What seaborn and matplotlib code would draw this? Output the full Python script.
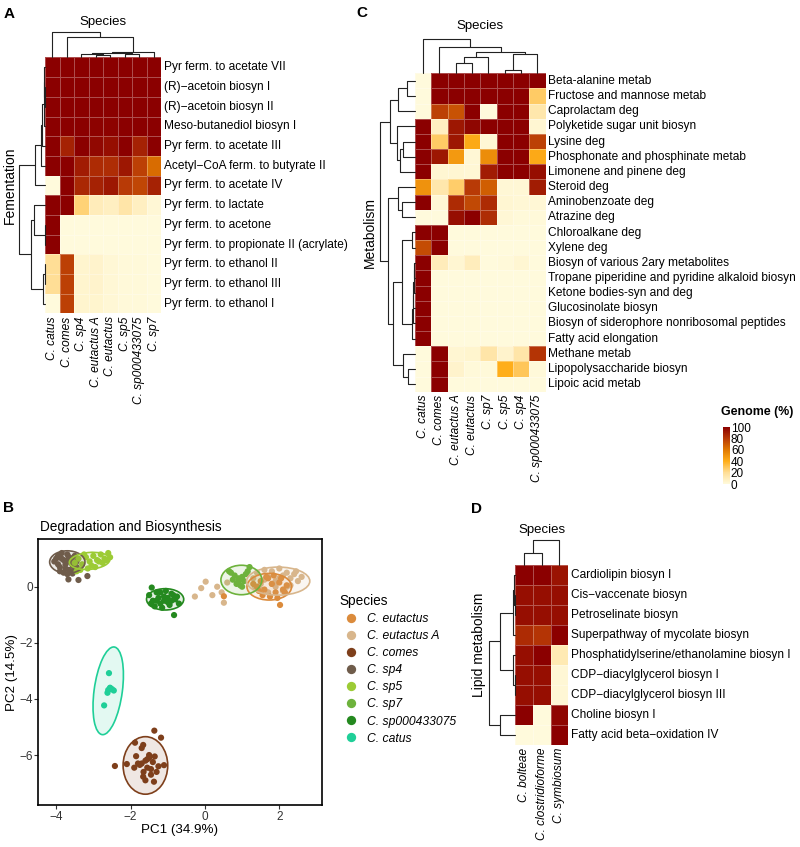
import numpy as np
import pandas as pd
import matplotlib
matplotlib.use('Agg')
import matplotlib.pyplot as plt
import seaborn as sns
from matplotlib.patches import Ellipse
from matplotlib.colors import LinearSegmentedColormap, Normalize
from matplotlib.cm import ScalarMappable

# ---------------- datos ----------------
# Panel A: fermentacion
ferm_species = ['C. catus', 'C. comes', 'C. sp4', 'C. eutactus A', 'C. eutactus',
                'C. sp5', 'C. sp000433075', 'C. sp7']
ferm_pathways = ['Pyr ferm. to acetate VII', '(R)\u2212acetoin biosyn I', '(R)\u2212acetoin biosyn II',
                 'Meso-butanediol biosyn I', 'Pyr ferm. to acetate III',
                 'Acetyl\u2212CoA ferm. to butyrate II', 'Pyr ferm. to acetate IV',
                 'Pyr ferm. to lactate', 'Pyr ferm. to acetone',
                 'Pyr ferm. to propionate II (acrylate)', 'Pyr ferm. to ethanol II',
                 'Pyr ferm. to ethanol III', 'Pyr ferm. to ethanol I']
ferm_values = [
    [100, 100, 100, 100, 100, 100, 100, 100],
    [100, 100, 100, 100, 100, 100, 100, 100],
    [100, 100, 100, 100, 100, 100, 100, 100],
    [100, 100, 100, 99, 99, 100, 100, 100],
    [100, 88, 100, 97, 95, 100, 88, 100],
    [100, 100, 90, 85, 84, 92, 78, 64],
    [0, 100, 86, 88, 92, 80, 76, 88],
    [100, 100, 25, 10, 8, 15, 8, 2],
    [100, 0, 0, 0, 0, 0, 0, 0],
    [100, 0, 0, 0, 0, 0, 0, 0],
    [20, 78, 4, 5, 2, 1, 1, 0],
    [20, 78, 4, 5, 2, 1, 1, 0],
    [0, 78, 4, 4, 2, 1, 1, 0],
]
# dendrogramas: (hijo izq, hijo der, altura)
ferm_col_tree = [(3, 4, 2.0), (2, 8, 3.0), (5, 6, 3.5), (9, 10, 4.0), (11, 7, 5.2),
                 (1, 12, 20.8), (0, 13, 25.2)]
ferm_row_tree = [(1, 2, 0.3), (0, 13, 0.6), (14, 3, 1.0), (15, 4, 3.0), (16, 5, 4.5),
                 (17, 6, 10.0), (8, 9, 0.5), (7, 19, 11.0), (10, 11, 0.5), (21, 12, 2.0),
                 (20, 22, 14.3), (18, 23, 26.0)]

# Panel C: metabolismo
met_species = ['C. catus', 'C. comes', 'C. eutactus A', 'C. eutactus', 'C. sp7',
               'C. sp5', 'C. sp4', 'C. sp000433075']
met_pathways = ['Beta-alanine metab', 'Fructose and mannose metab', 'Caprolactam deg',
                'Polyketide sugar unit biosyn', 'Lysine deg',
                'Phosphonate and phosphinate metab', 'Limonene and pinene deg',
                'Steroid deg', 'Aminobenzoate deg', 'Atrazine deg', 'Chloroalkane deg',
                'Xylene deg', 'Biosyn of various 2ary metabolites',
                'Tropane piperidine and pyridine alkaloid biosyn',
                'Ketone bodies-syn and deg', 'Glucosinolate biosyn',
                'Biosyn of siderophore nonribosomal peptides', 'Fatty acid elongation',
                'Methane metab', 'Lipopolysaccharide biosyn', 'Lipoic acid metab']
met_values = [
    [0, 100, 100, 100, 100, 100, 100, 100],
    [0, 100, 100, 100, 100, 100, 100, 28],
    [0, 78, 72, 100, 0, 100, 100, 14],
    [100, 8, 92, 98, 100, 100, 100, 3],
    [100, 28, 92, 42, 2, 100, 100, 78],
    [100, 92, 48, 2, 52, 100, 100, 42],
    [100, 3, 3, 2, 90, 100, 100, 95],
    [50, 14, 27, 80, 68, 2, 2, 90],
    [100, 2, 85, 75, 85, 3, 2, 2],
    [0, 0, 95, 100, 84, 2, 1, 1],
    [100, 100, 0, 0, 0, 0, 0, 0],
    [74, 100, 0, 0, 0, 0, 0, 0],
    [100, 10, 3, 9, 0, 1, 3, 0],
    [100, 0, 0, 0, 0, 0, 0, 0],
    [100, 0, 0, 0, 0, 0, 0, 0],
    [100, 0, 0, 0, 0, 0, 0, 0],
    [100, 0, 0, 0, 0, 0, 0, 0],
    [100, 0, 0, 0, 0, 0, 0, 0],
    [0, 100, 3, 4, 15, 5, 15, 82],
    [0, 100, 5, 1, 1, 40, 30, 1],
    [0, 100, 0, 0, 0, 0, 0, 0],
]
met_col_tree = [(5, 6, 3.0), (8, 7, 19.0), (2, 3, 10.0), (10, 4, 16.0), (11, 9, 21.0),
                (1, 12, 26.0), (0, 13, 34.0)]
met_row_tree = [(0, 1, 8.0), (21, 2, 17.0), (4, 5, 12.0), (23, 6, 15.0), (3, 24, 18.0),
                (22, 25, 25.0), (8, 9, 13.0), (7, 27, 17.0), (10, 11, 3.0),
                (12, 13, 0.5), (30, 14, 1.0), (31, 15, 1.5), (32, 16, 2.0), (33, 17, 2.5),
                (29, 34, 13.3), (19, 20, 7.0), (18, 36, 12.0), (35, 37, 21.7),
                (28, 38, 26.7), (26, 39, 35.0)]

# Panel D: lipidos
lip_species = ['C. bolteae', 'C. clostridioforme', 'C. symbiosum']
lip_pathways = ['Cardiolipin biosyn I', 'Cis\u2212vaccenate biosyn', 'Petroselinate biosyn',
                'Superpathway of mycolate biosyn',
                'Phosphatidylserine/ethanolamine biosyn I', 'CDP\u2212diacylglycerol biosyn I',
                'CDP\u2212diacylglycerol biosyn III', 'Choline biosyn I',
                'Fatty acid beta\u2212oxidation IV']
lip_values = [
    [100, 100, 93],
    [95, 95, 95],
    [95, 95, 95],
    [85, 82, 100],
    [95, 100, 12],
    [95, 95, 2],
    [95, 95, 2],
    [100, 0, 98],
    [0, 0, 100],
]
lip_col_tree = [(0, 1, 12.0), (3, 2, 25.0)]
lip_row_tree = [(1, 2, 0.5), (0, 9, 1.5), (10, 3, 2.5), (5, 6, 0.5), (4, 12, 2.0),
                (11, 13, 15.0), (7, 8, 15.0), (14, 15, 25.7)]

# Panel B: PCA
pca_order = ['C. eutactus', 'C. eutactus A', 'C. comes', 'C. sp4', 'C. sp5', 'C. sp7',
             'C. sp000433075', 'C. catus']
pca_colors = ['#DB8B3C', '#D8B68C', '#7E3F1B', '#6F5C4B', '#9CCB35', '#6DB23C',
              '#24891F', '#1FCF98']

sp4_x = [-4.05, -3.95, -3.9, -3.85, -3.8, -3.75, -3.7, -3.65, -3.6, -3.55, -3.5, -3.45,
         -3.9, -3.8, -3.7, -3.6, -3.5, -3.85, -3.75, -3.65, -3.67, -3.4, -3.16, -3.56,
         -4.0, -3.95, -3.45, -3.7]
sp4_y = [0.9, 1.1, 0.7, 1.2, 0.95, 0.8, 1.15, 0.6, 1.0, 0.75, 1.1, 0.9, 0.55, 0.5, 0.45,
         0.85, 0.6, 1.0, 0.65, 1.05, 0.26, 0.24, 0.38, 0.47, 1.0, 0.8, 0.7, 0.95]
sp5_x = [-3.5, -3.4, -3.3, -3.2, -3.1, -3.0, -2.9, -2.8, -2.7, -2.6, -2.55, -3.35, -3.15,
         -2.95, -2.75, -3.25, -3.05, -2.85, -3.45, -2.65]
sp5_y = [0.85, 1.0, 0.8, 1.05, 0.9, 1.1, 0.95, 1.15, 1.0, 1.2, 1.05, 0.6, 0.65, 0.7, 0.85,
         1.15, 0.75, 0.9, 0.55, 0.95]
sp0004_x = [-1.5, -1.4, -1.3, -1.2, -1.1, -1.0, -0.9, -0.8, -0.7, -1.35, -1.25, -1.15,
            -1.05, -0.95, -0.85, -1.45, -1.3, -1.1, -0.9, -0.75, -1.43, -0.83, -1.2, -1.0]
sp0004_y = [-0.3, -0.5, -0.2, -0.6, -0.35, -0.55, -0.25, -0.45, -0.6, -0.7, -0.4, -0.75,
            -0.15, -0.65, -0.3, -0.6, -0.5, -0.5, -0.5, -0.35, -0.03, -1.01, -0.2, -0.4]
sp7_x = [0.7, 0.8, 0.9, 1.0, 1.1, 1.15, 0.85, 0.95, 1.05, 0.75, 0.65, 1.2, 0.9, 1.0]
sp7_y = [0.5, 0.4, 0.3, 0.35, 0.45, 0.55, 0.1, 0.05, 0.2, 0.25, 0.55, 0.7, 0.2, 0.0]
eutA_x = [1.3, 1.4, 1.5, 1.6, 1.7, 1.8, 1.9, 2.0, 2.1, 2.2, 2.3, 2.4, 2.5, 1.5, 1.7, 1.9,
          2.1, 2.3, 1.6, 1.8, 2.0, 2.2, 2.45, 1.35, 2.6, -0.27, 0.02, 0.33, 0.51, 0.2,
          0.45, -0.1, 0.6]
eutA_y = [0.3, 0.5, 0.1, 0.6, 0.35, 0.55, 0.2, 0.65, 0.4, 0.5, 0.3, 0.45, 0.2, -0.1,
          -0.2, 0.0, -0.15, 0.05, 0.25, 0.1, 0.3, 0.0, 0.55, 0.0, 0.35, -0.35, 0.18, 0.0,
          -0.57, -0.3, -0.2, -0.05, 0.15]
eut_x = [1.4, 1.5, 1.6, 1.7, 1.8, 1.9, 2.0, 2.1, 2.2, 1.55, 1.75, 1.95, 2.15, 1.65, 1.85,
         2.05, 1.45, 2.02, 0.51, 1.3]
eut_y = [0.0, 0.2, -0.1, 0.3, 0.1, -0.2, 0.15, -0.1, 0.05, -0.3, -0.35, -0.4, -0.2, 0.35,
         0.4, 0.3, -0.15, -0.65, -0.34, 0.1]
comes_x = [-1.36, -1.18, -2.42, -1.88, -1.66, -1.85, -1.1, -1.37, -1.66, -2.1, -1.7,
           -1.6, -1.5, -1.55, -1.45, -1.65, -1.75, -1.4, -1.5, -1.6, -1.3, -1.8, -1.55,
           -1.45, -1.7, -1.25, -1.9, -1.35]
comes_y = [-5.13, -5.38, -6.39, -5.56, -5.64, -6.04, -6.36, -6.95, -6.77, -6.32, -6.3,
           -6.2, -6.1, -6.45, -6.5, -6.6, -6.35, -6.25, -6.0, -6.9, -6.6, -6.3, -6.15,
           -6.7, -5.75, -6.4, -6.45, -6.05]
catus_x = [-2.58, -2.55, -2.6, -2.5, -2.45, -2.62, -2.71, -2.55]
catus_y = [-3.08, -3.62, -3.68, -3.65, -3.7, -3.78, -4.23, -3.6]

# elipses de confianza: centro x, centro y, ancho, alto, angulo
ell_cx = [1.73, 1.97, -1.6, -3.7, -3.1, 0.98, -1.07, -2.6]
ell_cy = [0.0, 0.2, -6.37, 0.88, 0.92, 0.24, -0.45, -3.71]
ell_w = [1.2, 1.7, 1.2, 0.95, 1.1, 1.1, 1.0, 0.76]
ell_h = [0.95, 1.0, 2.05, 0.8, 0.6, 1.05, 0.76, 3.14]
ell_ang = [0, 0, 0, 0, 8, 0, 0, -5.7]

# ---------------- estilo ----------------
sns.set_theme(style='white')
plt.rcParams['font.family'] = ['Liberation Sans', 'DejaVu Sans']
plt.rcParams['text.color'] = 'black'
plt.rcParams['axes.labelcolor'] = 'black'

cmap = LinearSegmentedColormap.from_list('genome', [
    (0.0, '#FFFADC'), (0.2, '#FFDE96'), (0.4, '#FFAE1A'), (0.6, '#E07800'),
    (0.8, '#B83A06'), (1.0, '#8B0000')])

W, H = 800, 847
fig = plt.figure(figsize=(W / 100, H / 100), dpi=100)


def caja(l, t, r, b):
    # caja en pixeles -> coordenadas de figura
    return [l / W, 1 - b / H, (r - l) / W, (b - t) / H]


def heat(ax, values, rows, cols, fs=8.6):
    df = pd.DataFrame(values, index=rows, columns=cols)
    sns.heatmap(df, ax=ax, cmap=cmap, vmin=0, vmax=100, cbar=False,
                linewidths=0.4, linecolor=(1, 1, 1, 0.3),
                xticklabels=True, yticklabels=True)
    ax.yaxis.tick_right()
    ax.tick_params(length=0, pad=2, labelsize=fs, labelcolor='black')
    plt.setp(ax.get_yticklabels(), rotation=0, va='center')
    plt.setp(ax.get_xticklabels(), rotation=90, style='italic', va='top', ha='center')
    ax.set_xlabel('')
    ax.set_ylabel('')


def dendro(ax, tree, n, side):
    pos = {i: i + 0.5 for i in range(n)}
    alt = {i: 0.0 for i in range(n)}
    for k, (a, b, h) in enumerate(tree):
        xs = [pos[a], pos[a], pos[b], pos[b]]
        ys = [alt[a], h, h, alt[b]]
        if side == 'top':
            ax.plot(xs, ys, color='#222222', lw=0.8, clip_on=False)
        else:
            ax.plot(ys, xs, color='#222222', lw=0.8, clip_on=False)
        pos[n + k] = (pos[a] + pos[b]) / 2
        alt[n + k] = h
    top = max(h for _, _, h in tree)
    if side == 'top':
        ax.set_xlim(0, n)
        ax.set_ylim(0, top)
    else:
        ax.set_ylim(n, 0)
        ax.set_xlim(top, 0)
    ax.axis('off')


# ---------------- Panel A ----------------
axA = fig.add_axes(caja(45, 57.5, 161, 313.5))
heat(axA, ferm_values, ferm_pathways, ferm_species)
dendro(fig.add_axes(caja(45, 32.3, 161, 57.5)), ferm_col_tree, 8, 'top')
dendro(fig.add_axes(caja(19, 57.5, 45, 313.5)), ferm_row_tree, 13, 'left')
fig.text(103 / W, 1 - 22 / H, 'Species', ha='center', va='center', fontsize=9.5)
fig.text(10 / W, 1 - 185 / H, 'Fementation', ha='center', va='center', rotation=90, fontsize=10)

# ---------------- Panel C ----------------
axC = fig.add_axes(caja(415, 73.3, 545.5, 391.7))
heat(axC, met_values, met_pathways, met_species)
dendro(fig.add_axes(caja(415, 39.3, 545.5, 73.3)), met_col_tree, 8, 'top')
dendro(fig.add_axes(caja(380, 73.3, 415, 391.7)), met_row_tree, 21, 'left')
fig.text(480 / W, 1 - 26 / H, 'Species', ha='center', va='center', fontsize=9.5)
fig.text(370 / W, 1 - 232 / H, 'Metabolism', ha='center', va='center', rotation=90, fontsize=10)

cax = fig.add_axes(caja(723, 427, 729.5, 484))
cb = fig.colorbar(ScalarMappable(norm=Normalize(0, 100), cmap=cmap), cax=cax,
                  ticks=[0, 20, 40, 60, 80, 100])
cb.outline.set_visible(False)
cax.tick_params(length=2, width=0.6, color='white', direction='in', labelsize=8.5, pad=1,
                labelcolor='black')
fig.text(721 / W, 1 - 412 / H, 'Genome (%)', ha='left', va='center', fontsize=8.9, fontweight='bold')

# ---------------- Panel D ----------------
axD = fig.add_axes(caja(515, 565, 568.3, 745))
heat(axD, lip_values, lip_pathways, lip_species)
dendro(fig.add_axes(caja(515, 540, 568.3, 565)), lip_col_tree, 3, 'top')
dendro(fig.add_axes(caja(489.3, 565, 515, 745)), lip_row_tree, 9, 'left')
fig.text(541.7 / W, 1 - 530 / H, 'Species', ha='center', va='center', fontsize=9.5)
fig.text(479 / W, 1 - 645 / H, 'Lipid metabolism', ha='center', va='center', rotation=90, fontsize=10)

# ---------------- Panel B ----------------
puntos = [
    ('C. sp4', sp4_x, sp4_y), ('C. sp5', sp5_x, sp5_y),
    ('C. sp000433075', sp0004_x, sp0004_y), ('C. eutactus A', eutA_x, eutA_y),
    ('C. eutactus', eut_x, eut_y), ('C. sp7', sp7_x, sp7_y),
    ('C. comes', comes_x, comes_y), ('C. catus', catus_x, catus_y),
]
df_pca = pd.concat([pd.DataFrame({'PC1': x, 'PC2': y, 'Species': sp}) for sp, x, y in puntos],
                   ignore_index=True)
paleta = dict(zip(pca_order, pca_colors))

axB = fig.add_axes(caja(38.3, 539.3, 321.7, 805))
sns.scatterplot(data=df_pca, x='PC1', y='PC2', hue='Species', hue_order=pca_order,
                palette=paleta, s=20, edgecolor='none', ax=axB)
for i, sp in enumerate(pca_order):
    c = paleta[sp]
    axB.add_patch(Ellipse((ell_cx[i], ell_cy[i]), ell_w[i], ell_h[i], angle=ell_ang[i],
                          facecolor=c, alpha=0.12, edgecolor='none', zorder=3))
    axB.add_patch(Ellipse((ell_cx[i], ell_cy[i]), ell_w[i], ell_h[i], angle=ell_ang[i],
                          facecolor='none', edgecolor=c, lw=1.2, zorder=4))
axB.set_xlim(-4.48, 3.14)
axB.set_ylim(-7.78, 1.69)
axB.set_xticks([-4, -2, 0, 2])
axB.set_yticks([-6, -4, -2, 0])
for s in axB.spines.values():
    s.set_color('black')
    s.set_linewidth(1.2)
axB.tick_params(direction='out', length=3, width=0.8, labelsize=8.5, pad=1,
                bottom=True, left=True, colors='#333333')
axB.set_xlabel('PC1 (34.9%)', fontsize=9.6, labelpad=1)
axB.set_ylabel('PC2 (14.5%)', fontsize=9.6, labelpad=1)
fig.text(40 / W, 1 - 527 / H, 'Degradation and Biosynthesis', ha='left', va='center', fontsize=9.8)

handles, labels = axB.get_legend_handles_labels()
leg = axB.legend(handles, labels, title='Species', loc='upper left',
                 bbox_to_anchor=(333 / W, 1 - 588 / H), bbox_transform=fig.transFigure,
                 frameon=False, fontsize=8.7, title_fontsize=9.8, markerscale=1.5,
                 labelspacing=0.42, handletextpad=0.3, borderpad=0)
leg._legend_box.align = 'left'
for t in leg.get_texts():
    t.set_fontstyle('italic')

# letras de panel
for letra, x, y in [('A', 9, 14), ('C', 362, 13), ('B', 9, 508), ('D', 476, 509)]:
    fig.text(x / W, 1 - y / H, letra, ha='center', va='center', fontsize=11, fontweight='bold')

fig.savefig('out.png', dpi=100)
